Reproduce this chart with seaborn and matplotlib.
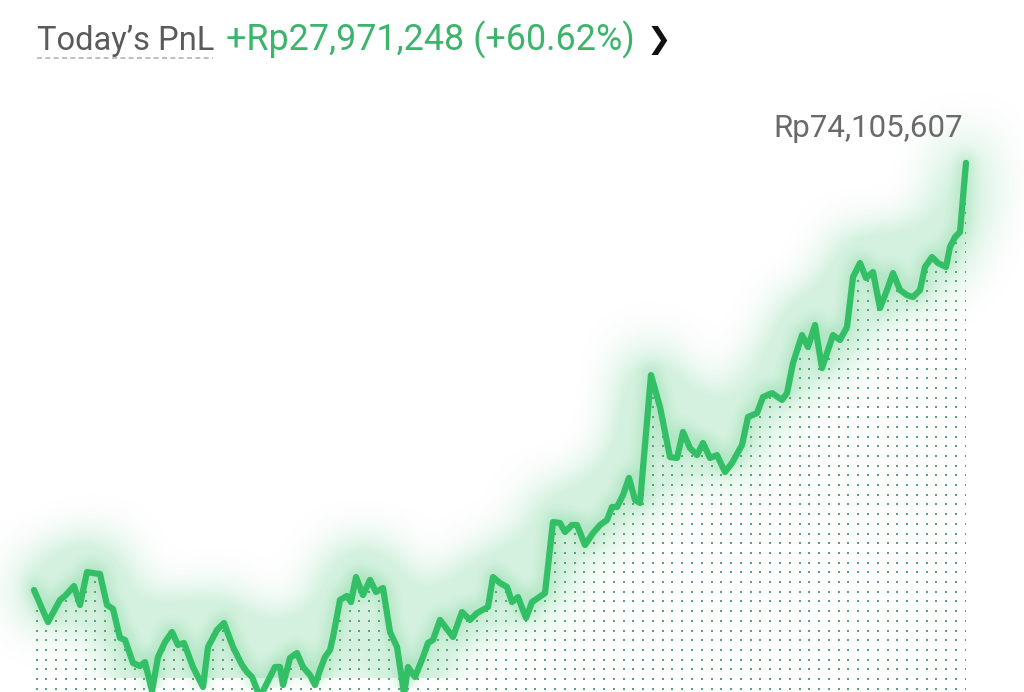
import numpy as np
import pandas as pd
import matplotlib
matplotlib.use("Agg")
import matplotlib.pyplot as plt
from matplotlib.lines import Line2D
import seaborn as sns

# equity curve for the day (time in minutes from open, value in million Rp)
minute = [0, 14, 26, 31, 40, 46, 53, 59, 66, 73, 79, 86, 91, 99, 106, 111, 118, 124, 131, 138,
          144, 150, 159, 169, 174, 183, 190, 199, 208, 213, 218, 226, 241, 246, 249, 256, 263, 269, 276, 281,
          286, 291, 296, 299, 306, 313, 317, 322, 329, 336, 342, 349, 356, 363, 368, 370, 374, 381, 389, 394,
          399, 406, 419, 428, 436, 443, 454, 459, 466, 473, 478, 484, 492, 498, 504, 511, 519, 526, 531, 538,
          543, 551, 559, 566, 573, 578, 583, 589, 595, 601, 606, 617, 626, 636, 643, 649, 656, 663, 669, 676,
          683, 691, 698, 708, 714, 723, 729, 738, 748, 753, 759, 768, 774, 781, 788, 799, 806, 813, 819, 826,
          832, 839, 846, 853, 859, 866, 873, 879, 886, 891, 898, 904, 912, 916, 921, 926, 932]
equity = [46.13, 44.03, 45.48, 45.74, 46.39, 45.15, 47.31, 47.24, 47.18, 45.15, 44.89, 42.99, 42.86, 41.35, 41.15, 41.41, 39.51, 41.74, 42.72, 43.38,
          42.53, 42.66, 41.09, 39.78, 42.40, 43.51, 43.97, 42.40, 41.22, 40.76, 40.43, 39.12, 41.09, 41.09, 39.91, 41.68, 42.00, 41.09, 40.56, 39.91,
          40.89, 41.74, 42.20, 43.05, 45.48, 45.74, 45.34, 46.98, 45.80, 46.79, 46.00, 46.26, 43.38, 42.40, 40.24, 39.25, 41.09, 40.43, 41.74, 42.66,
          42.86, 44.17, 43.05, 44.69, 44.17, 44.62, 45.02, 46.98, 46.59, 46.33, 45.34, 45.67, 44.30, 45.34, 45.61, 45.93, 50.58, 50.52, 49.93, 50.39,
          50.39, 49.08, 49.86, 50.39, 50.72, 51.57, 51.57, 52.35, 53.47, 52.03, 51.83, 60.21, 58.12, 54.84, 54.78, 56.48, 55.43, 54.97, 55.76, 54.78,
          54.97, 53.86, 54.45, 55.63, 57.46, 57.72, 58.77, 59.03, 58.58, 59.03, 61.00, 62.83, 62.05, 63.49, 60.67, 62.83, 62.51, 63.36, 66.63, 67.55,
          66.57, 66.96, 64.60, 65.78, 66.89, 65.78, 65.45, 65.32, 65.78, 67.29, 67.94, 67.55, 67.29, 68.60, 69.25, 69.58, 74.11]

title_label = "Today\u2019s PnL"
pnl_label = "+Rp27,971,248 (+60.62%)"
last_label = "Rp74,105,607"

line_green = '#33bf66'
text_green = '#3cb46c'

sns.set_theme(style="white")
plt.rcParams['font.family'] = ['Roboto', 'DejaVu Sans']

df = pd.DataFrame({'minute': minute, 'equity': equity})

W, H = 1024, 692
xlim = (-34, 990)
ymin, ymax = 39.45, 84.78


def box_blur(a, r, axis):
    pad = [(0, 0), (0, 0)]
    pad[axis] = (r + 1, r)
    c = np.cumsum(np.pad(a, pad), axis=axis)
    if axis == 0:
        return (c[2 * r + 1:] - c[:-2 * r - 1]) / (2 * r + 1)
    return (c[:, 2 * r + 1:] - c[:, :-2 * r - 1]) / (2 * r + 1)


def blurred(a, r, shift):
    a = np.vstack([a, np.repeat(a[-1:], 2 * r, axis=0)])
    for _ in range(3):
        a = box_blur(a, r, 0)
        a = box_blur(a, r, 1)
    a = a[:H]
    return np.vstack([a[shift:], np.zeros((shift, a.shape[1]))])


# render the curve offscreen and blur it to get the glow
gfig = plt.figure(figsize=(W / 100, H / 100), dpi=100)
gfig.patch.set_alpha(0)
gax = gfig.add_axes([0, 0, 1, 1])
gax.patch.set_alpha(0)
gax.plot(df.minute, df.equity, color='k', lw=8)
gax.set_xlim(*xlim)
gax.set_ylim(ymin, ymax)
gax.axis('off')
gfig.canvas.draw()
mask = np.asarray(gfig.canvas.buffer_rgba())[..., 3].astype(float) / 255
plt.close(gfig)

near = np.clip(blurred(mask, 6, 4) * 1.3, 0, 1) * 0.22
wide = np.clip(blurred(mask, 26, 14) / 0.12, 0, 1.3) * 0.16
glow = np.zeros((H, W, 4))
glow[..., :3] = matplotlib.colors.to_rgb(line_green)
glow[..., 3] = 1 - (1 - near) * (1 - wide)

fig = plt.figure(figsize=(W / 100, H / 100), dpi=100)
ax = fig.add_axes([0, 0, 1, 1])
ax.imshow(glow, extent=[xlim[0], xlim[1], ymin, ymax], origin='upper', aspect='auto',
          interpolation='bilinear', zorder=1)

# dotted texture under the curve
area = ax.fill_between(df.minute, df.equity, ymin - 5, color='none', lw=0)
step_y = 9.7 * (ymax - ymin) / H
gx = np.arange(2.7, 933, 9.78)
gy = np.arange(ymin + 3.3 * (ymax - ymin) / H, ymax, step_y)
XX, YY = np.meshgrid(gx, gy)
dots = ax.scatter(XX.ravel(), YY.ravel(), s=4.5, color='#5aa573', lw=0, marker='s', zorder=2)
dots.set_clip_path(area.get_paths()[0], transform=ax.transData)

sns.lineplot(data=df, x='minute', y='equity', ax=ax, color=line_green, lw=4.5,
             solid_joinstyle='round', solid_capstyle='round', zorder=3)
ax.set_xlim(*xlim)
ax.set_ylim(ymin, ymax)
ax.axis('off')

# header
fig.text(37 / W, 1 - 50 / H, title_label, fontsize=23.5, color='#5a5a5a', ha='left', va='baseline')
fig.add_artist(Line2D([37 / W, 213 / W], [1 - 58 / H] * 2, color='#b4b4b4', lw=1.2, ls=(0, (3, 2))))
fig.text(226 / W, 1 - 50 / H, pnl_label, fontsize=25.8, color=text_green, ha='left', va='baseline')
fig.text(647 / W, 1 - 48 / H, '\u276F', fontsize=21, color='#111111', ha='left', va='baseline',
         family=['DejaVu Sans'])

fig.text(963 / W, 1 - 137 / H, last_label, fontsize=22.5, color='#6a6a6a', ha='right', va='baseline')

fig.savefig('out.png', dpi=100)
